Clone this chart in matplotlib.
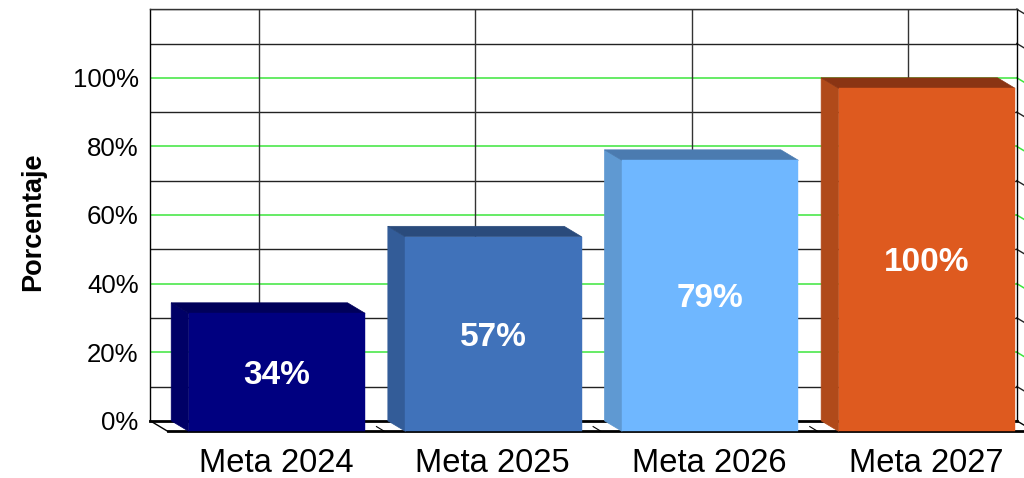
import matplotlib.pyplot as plt

plt.rcParams['font.family'] = ['Liberation Sans', 'DejaVu Sans']

categories = ['Meta 2024', 'Meta 2025', 'Meta 2026', 'Meta 2027']
values = [34.4, 56.7, 79, 100]
labels = ['34%', '57%', '79%', '100%']
y_ticks = [0, 20, 40, 60, 80, 100]
y_minor = [10, 30, 50, 70, 90, 110, 120]
front_colors = ['#000080', '#4072BA', '#6FB7FF', '#DE5A1F']
top_colors = ['#00005A', '#2A4B7C', '#4B7BB0', '#8A3413']
side_colors = ['#000066', '#335C98', '#5F99D2', '#B04A1A']

fig = plt.figure(figsize=(10.24, 4.78), dpi=100)
ax = fig.add_axes([150.2 / 1024, 57.2 / 478, 866.6 / 1024, 411.6 / 478])
ax.set_xlim(0, 4)
ax.set_ylim(0, 120)

# глубина псевдо-3D в единицах данных
dx = 17.5 / 216.6
dy = 10.5 / 3.43
bar_w = 176.3 / 216.6
left_gap = 21 / 216.6

# сетка на задней стенке и её продолжение вправо
for v in y_minor:
    ax.plot([0, 4], [v, v], color='#222222', lw=1, zorder=1)
    ax.plot([4, 4 + dx], [v, v - dy], color='#222222', lw=1, zorder=1, clip_on=False)
for v in y_ticks[1:]:
    ax.plot([0, 4], [v, v], color='#3CE63C', lw=1.1, zorder=1)
    ax.plot([4, 4 + dx], [v, v - dy], color='#3CE63C', lw=1.1, zorder=1, clip_on=False)
for i in range(4):
    ax.plot([i + 0.5, i + 0.5], [0, 120], color='#333333', lw=1, zorder=1)

# пол
ax.plot([0, dx], [0, -dy], color='black', lw=1, zorder=2, clip_on=False)
ax.plot([4, 4 + dx], [0, -dy], color='black', lw=1, zorder=2, clip_on=False)
ax.plot([dx, 4 + 2 * dx], [-dy, -dy], color='black', lw=2, zorder=5, clip_on=False)
for i in range(1, 4):
    ax.plot([i + 0.55 * dx, i + dx], [-0.55 * dy, -dy], color='black', lw=0.8, zorder=2, clip_on=False)

for i, v in enumerate(values):
    x0 = i + left_gap
    x1 = x0 + bar_w
    ax.fill([x0, x0 + dx, x0 + dx, x0], [0, -dy, v - dy, v], facecolor=side_colors[i],
            edgecolor=side_colors[i], lw=0.5, zorder=6, clip_on=False)
    ax.fill([x0, x1, x1 + dx, x0 + dx], [v, v, v - dy, v - dy], facecolor=top_colors[i],
            edgecolor=top_colors[i], lw=0.5, zorder=6, clip_on=False)
    ax.bar(x0 + dx, v, width=bar_w, bottom=-dy, align='edge', facecolor=front_colors[i],
           edgecolor=front_colors[i], lw=0.3, zorder=7, clip_on=False)
    # подпись значения немного ниже центра передней грани
    ax.text(x0 + dx + bar_w / 2, (v - 2 * dy) / 2 - 0.9, labels[i], color='white',
            fontsize=24, fontweight='bold', ha='center', va='center', zorder=8)

ax.spines['top'].set_color('#333333')
ax.spines['top'].set_linewidth(1)
ax.spines['left'].set_linewidth(1)
ax.spines['right'].set_linewidth(1)
ax.spines['bottom'].set_linewidth(2)
ax.spines['bottom'].set_zorder(3)

ax.set_yticks(y_ticks)
ax.set_yticklabels([str(v) + '%' for v in y_ticks], fontsize=18.6)
ax.set_xticks([i + 0.5 + dx for i in range(4)])
ax.set_xticklabels(categories, fontsize=23.6)
ax.tick_params(axis='y', length=0, pad=8.4)
ax.tick_params(axis='x', length=0, pad=19.9)

fig.text(33 / 1024, 1 - 221.5 / 478, 'Porcentaje', rotation=90, fontsize=19.5,
         fontweight='bold', ha='center', va='center')

plt.savefig('out.png', dpi=100)
